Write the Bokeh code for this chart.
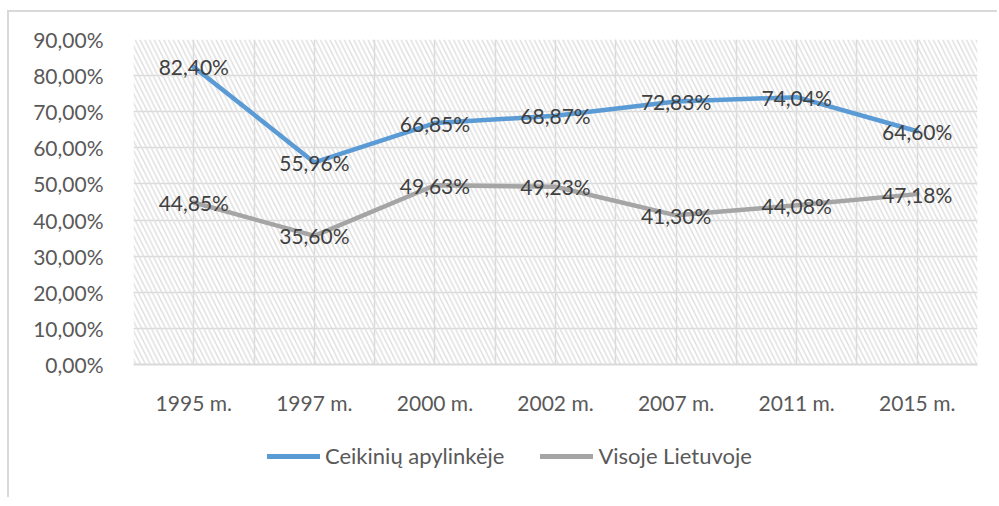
from bokeh.plotting import figure
from bokeh.layouts import column
from bokeh.models import (ColumnDataSource, FixedTicker, BoxAnnotation, Legend, LegendItem, Range1d)
from bokeh.core.properties import value
from bokeh.embed import file_html
from bokeh.resources import INLINE

years = ["1995 m.", "1997 m.", "2000 m.", "2002 m.", "2007 m.", "2011 m.", "2015 m."]
ceikiniu = [82.40, 55.96, 66.85, 68.87, 72.83, 74.04, 64.60]
visoje = [44.85, 35.60, 49.63, 49.23, 41.30, 44.08, 47.18]
series_names = ["Ceikinių apylinkėje", "Visoje Lietuvoje"]
y_ticks = [0, 10, 20, 30, 40, 50, 60, 70, 80, 90]

BLUE, GRAY = "#5B9BD5", "#A5A5A5"

def fmt(v):
    return f"{v:.2f}".replace(".", ",") + "%"

xs = list(range(len(years)))
src_c = ColumnDataSource(dict(x=xs, y=ceikiniu, lbl=[fmt(v) for v in ceikiniu]))
src_v = ColumnDataSource(dict(x=xs, y=visoje, lbl=[fmt(v) for v in visoje]))

FONT = "Lato"
FS = "21px"

W = 988
H1 = 27 + 328 + 50
p = figure(width=W, height=H1,
           x_range=(-0.5, len(years) - 0.5), y_range=(0, 90),
           output_backend="svg", toolbar_location=None,
           min_border_left=124, min_border_top=27, min_border_right=W - 124 - 844,
           min_border_bottom=H1 - 27 - 328)
p.outline_line_color = None
p.background_fill_color = "white"
p.border_fill_color = "white"

hatch = BoxAnnotation(fill_alpha=0, line_alpha=0, hatch_pattern="left_diagonal_line",
                      hatch_color="#e0e0e0", hatch_weight=1.5, hatch_scale=9.5,
                      level="underlay")
p.add_layout(hatch)

# grids
p.xgrid.ticker = FixedTicker(ticks=[i * 0.5 - 0.5 for i in range(2 * len(years) + 1)])
p.ygrid.ticker = FixedTicker(ticks=y_ticks)
for g in (p.xgrid, p.ygrid):
    g.grid_line_color = "#d9d9d9"
    g.grid_line_width = 1.5

# axes
p.xaxis.ticker = FixedTicker(ticks=xs)
p.xaxis.major_label_overrides = {i: y for i, y in enumerate(years)}
p.yaxis.ticker = FixedTicker(ticks=y_ticks)
p.yaxis.major_label_overrides = {t: f"{t},00%" for t in y_ticks}
for ax in (p.xaxis, p.yaxis):
    ax.major_tick_line_color = None
    ax.minor_tick_line_color = None
    ax.major_label_text_font = FONT
    ax.major_label_text_font_size = FS
    ax.major_label_text_color = "#595959"
p.yaxis.axis_line_color = None
p.xaxis.axis_line_color = "#d9d9d9"
p.xaxis.axis_line_width = 2
p.xaxis.major_label_standoff = 19
p.yaxis.major_label_standoff = 24

p.line("x", "y", source=src_c, line_color=BLUE, line_width=4.5, line_cap="round")
p.line("x", "y", source=src_v, line_color=GRAY, line_width=4.5, line_cap="round")

for s in (src_c, src_v):
    p.text("x", "y", text="lbl", source=s, text_align="center", text_baseline="middle",
           text_font=value(FONT), text_font_size=FS, text_color="#404040")

# legend panel (separate figure below the chart); its lines lie outside its visible range
H2 = 80
q = figure(width=W, height=H2, x_range=Range1d(0, 1), y_range=Range1d(-2, -1),
           output_backend="svg", toolbar_location=None,
           min_border=0, min_border_left=0, min_border_right=0,
           min_border_top=0, min_border_bottom=0)
q.axis.visible = False
q.grid.visible = False
q.outline_line_color = None
q.background_fill_color = "white"
q.border_fill_color = "white"
l1 = q.line("x", "y", source=src_c, line_color=BLUE, line_width=5, line_cap="round")
l2 = q.line("x", "y", source=src_v, line_color=GRAY, line_width=5, line_cap="round")
legend = Legend(items=[LegendItem(label=series_names[0], renderers=[l1]),
                       LegendItem(label=series_names[1], renderers=[l2])],
                orientation="horizontal", location=(134, 28),
                padding=0, margin=0, spacing=36, glyph_width=53, glyph_height=20,
                label_standoff=5, border_line_color=None, background_fill_alpha=0,
                label_text_font=FONT, label_text_font_size="22px", label_text_color="#595959")
q.add_layout(legend, "center")

lay = column(p, q, spacing=0)
lay.styles = {"border-top": "2px solid #d9d9d9", "border-left": "2px solid #d9d9d9",
              "margin-left": "7px", "margin-top": "10px"}

open("out.html", "w").write(file_html(lay, INLINE))
